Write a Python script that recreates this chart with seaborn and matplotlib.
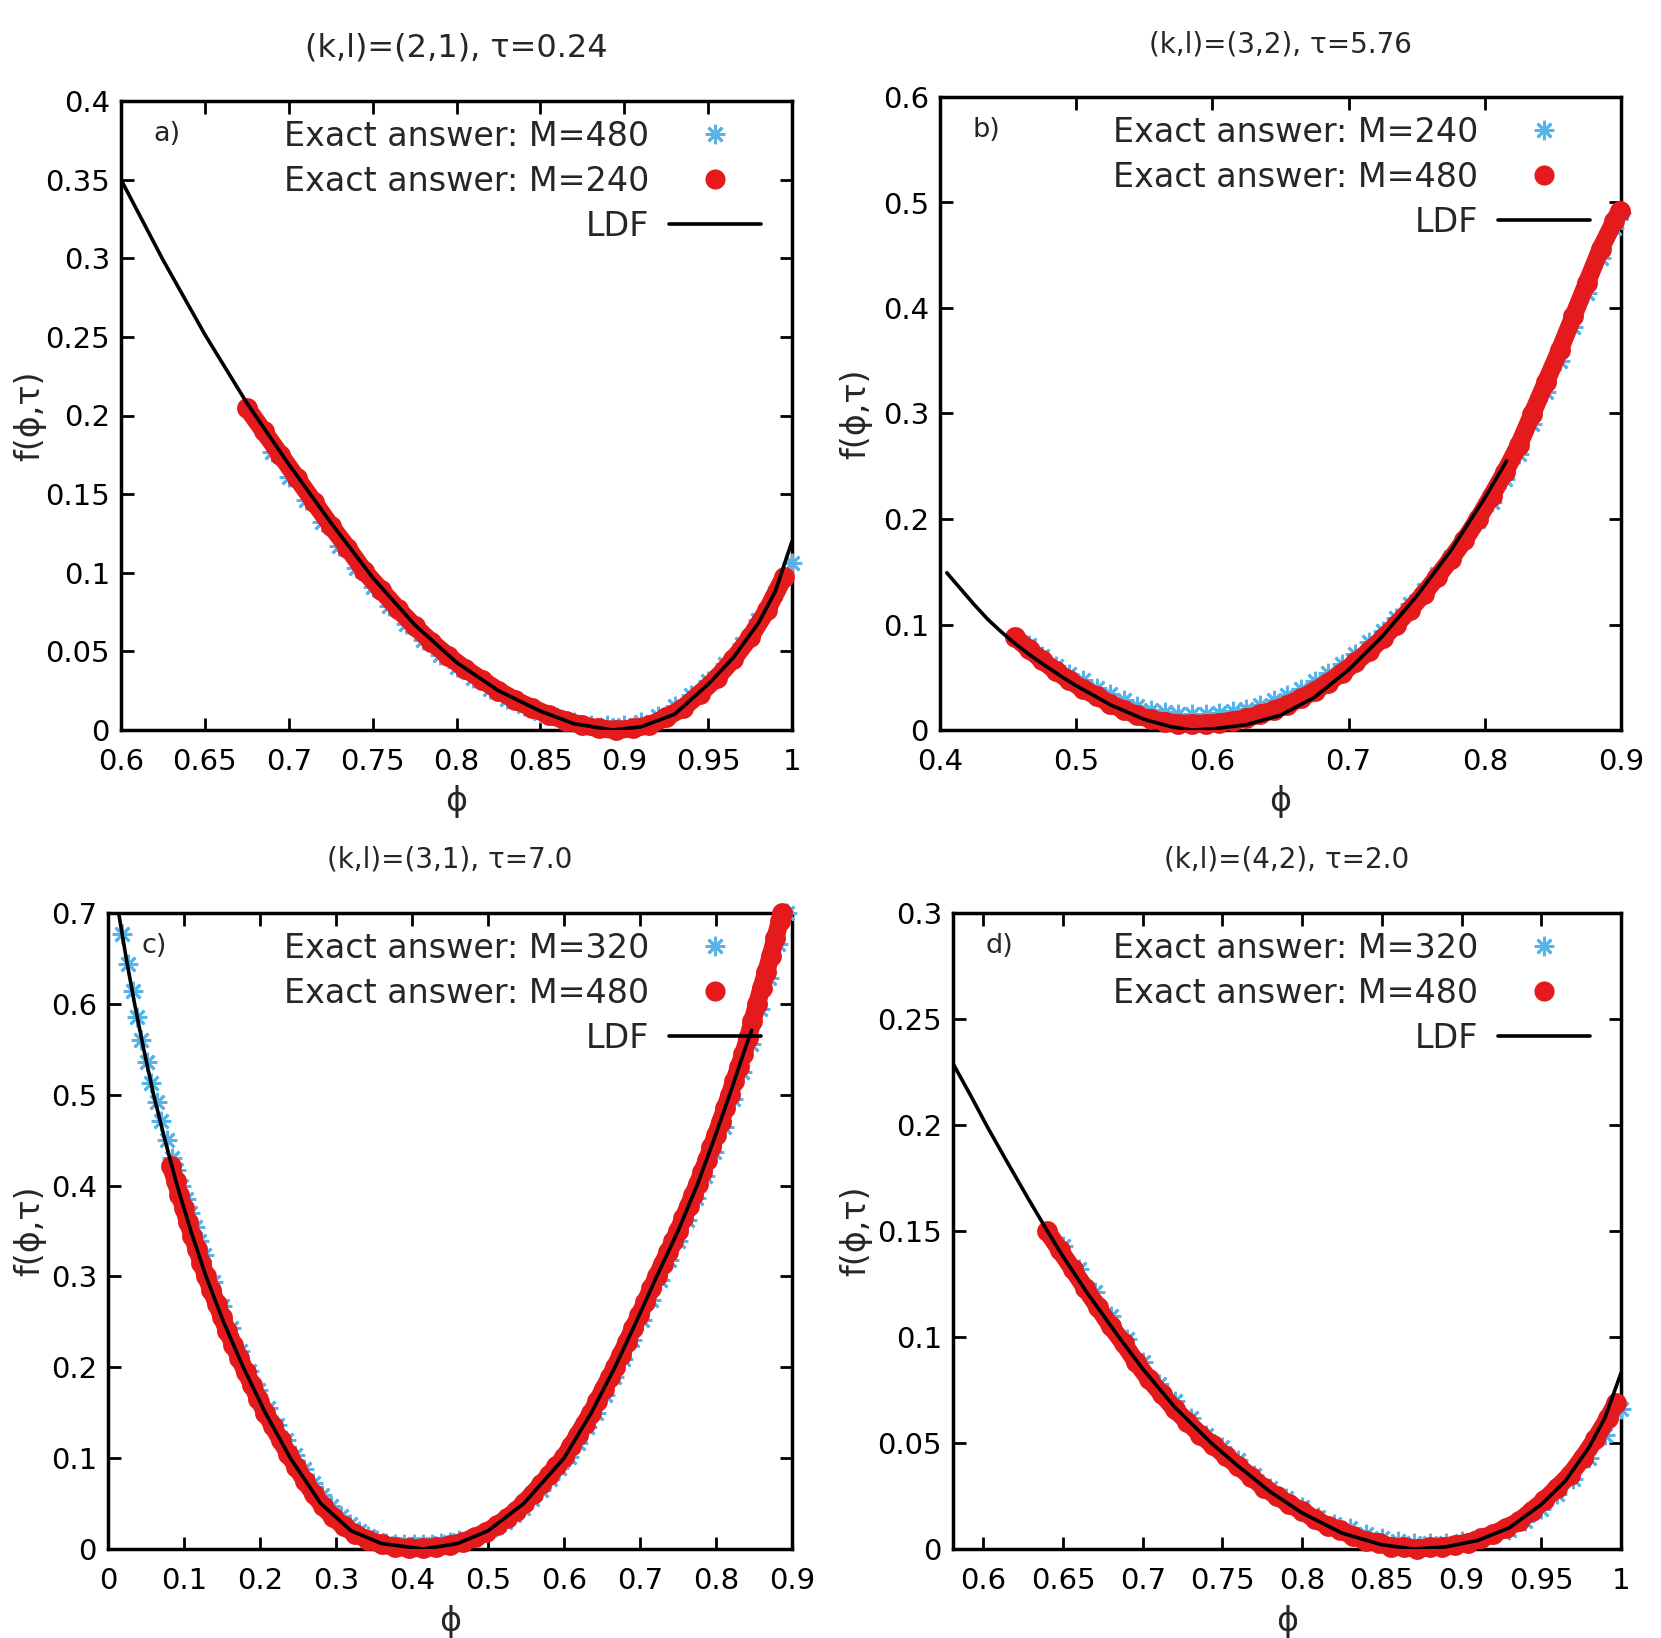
import matplotlib
matplotlib.use("Agg")
import matplotlib.pyplot as plt
from matplotlib.lines import Line2D
from matplotlib.ticker import MultipleLocator, FuncFormatter
import seaborn as sns

# --- values ---

# panel a) (k,l)=(2,1), tau=0.24
a_ldf_x = [0.600, 0.625, 0.650, 0.675, 0.700, 0.725, 0.750, 0.775, 0.800, 0.825,
           0.850, 0.870, 0.893, 0.910, 0.930, 0.950, 0.965, 0.980, 0.990, 1.000]
a_ldf_y = [0.350, 0.299, 0.2515, 0.208, 0.169, 0.132, 0.097, 0.067, 0.043, 0.025,
           0.012, 0.004, 0.000, 0.002, 0.010, 0.029, 0.046, 0.068, 0.088, 0.120]
a_red_x = [0.675, 0.685, 0.695, 0.705, 0.715, 0.725, 0.735, 0.745, 0.755, 0.765,
           0.775, 0.785, 0.795, 0.805, 0.815, 0.825, 0.835, 0.845, 0.855, 0.865,
           0.875, 0.885, 0.895, 0.905, 0.915, 0.925, 0.935, 0.945, 0.955, 0.965,
           0.975, 0.985, 0.995]
a_red_y = [0.205, 0.190, 0.175, 0.160, 0.145, 0.130, 0.116, 0.101, 0.089, 0.077,
           0.066, 0.056, 0.047, 0.039, 0.032, 0.025, 0.019, 0.014, 0.0095, 0.006,
           0.003, 0.001, 0.000, 0.001, 0.003, 0.008, 0.014, 0.023, 0.033, 0.045,
           0.059, 0.076, 0.097]
a_blue_x = [0.690, 0.700, 0.710, 0.720, 0.730, 0.740, 0.750, 0.760, 0.770, 0.780,
            0.790, 0.800, 0.810, 0.820, 0.830, 0.840, 0.850, 0.860, 0.870, 0.880,
            0.890, 0.900, 0.910, 0.920, 0.930, 0.940, 0.950, 0.960, 0.970, 0.980,
            0.990, 1.000]
a_blue_y = [0.177, 0.161, 0.1465, 0.132, 0.117, 0.103, 0.091, 0.079, 0.0675, 0.057,
            0.048, 0.040, 0.033, 0.026, 0.020, 0.015, 0.011, 0.008, 0.005, 0.003,
            0.003, 0.003, 0.005, 0.009, 0.015, 0.022, 0.031, 0.042, 0.055, 0.070,
            0.087, 0.106]

# panel b) (k,l)=(3,2), tau=5.76
b_ldf_x = [0.405, 0.415, 0.425, 0.435, 0.445, 0.455, 0.465, 0.475, 0.490, 0.500,
           0.525, 0.550, 0.570, 0.585, 0.600, 0.625, 0.650, 0.675, 0.700, 0.725,
           0.750, 0.775, 0.800, 0.816]
b_ldf_y = [0.149, 0.134, 0.119, 0.105, 0.093, 0.082, 0.072, 0.063, 0.050, 0.042,
           0.024, 0.010, 0.003, 0.000, 0.001, 0.005, 0.014, 0.031, 0.057, 0.089,
           0.127, 0.170, 0.220, 0.255]
b_red_x = [0.455, 0.465, 0.475, 0.485, 0.495, 0.505, 0.515, 0.525, 0.535, 0.545,
           0.555, 0.565, 0.575, 0.585, 0.595, 0.605, 0.615, 0.625, 0.635, 0.645,
           0.655, 0.665, 0.675, 0.685, 0.695, 0.705, 0.715, 0.725, 0.735, 0.745,
           0.755, 0.765, 0.775, 0.785, 0.795, 0.805, 0.815, 0.825, 0.835, 0.845,
           0.855, 0.865, 0.875, 0.885, 0.895, 0.899]
b_red_y = [0.088, 0.077, 0.066, 0.056, 0.047, 0.039, 0.032, 0.025, 0.019, 0.014,
           0.010, 0.008, 0.006, 0.006, 0.006, 0.007, 0.009, 0.011, 0.015, 0.019,
           0.024, 0.030, 0.037, 0.045, 0.054, 0.064, 0.075, 0.087, 0.100, 0.114,
           0.129, 0.145, 0.162, 0.180, 0.200, 0.222, 0.245, 0.270, 0.300, 0.330,
           0.360, 0.392, 0.424, 0.456, 0.482, 0.492]
b_blue_x = [0.465, 0.475, 0.485, 0.495, 0.505, 0.515, 0.525, 0.535, 0.545, 0.555,
            0.565, 0.575, 0.585, 0.595, 0.605, 0.615, 0.625, 0.635, 0.645, 0.655,
            0.665, 0.675, 0.685, 0.695, 0.705, 0.715, 0.725, 0.735, 0.745, 0.755,
            0.765, 0.775, 0.785, 0.795, 0.805, 0.815, 0.825, 0.835, 0.845, 0.855,
            0.865, 0.875, 0.885, 0.895, 0.900]
b_blue_y = [0.081, 0.070, 0.061, 0.053, 0.047, 0.040, 0.034, 0.028, 0.023, 0.019,
            0.017, 0.015, 0.015, 0.015, 0.016, 0.018, 0.020, 0.024, 0.028, 0.033,
            0.039, 0.046, 0.054, 0.063, 0.072, 0.083, 0.094, 0.106, 0.119, 0.133,
            0.148, 0.164, 0.180, 0.198, 0.216, 0.238, 0.262, 0.290, 0.320, 0.350,
            0.382, 0.414, 0.447, 0.476, 0.490]

# panel c) (k,l)=(3,1), tau=7.0
c_ldf_x = [0.014, 0.024, 0.035, 0.047, 0.060, 0.075, 0.091, 0.109, 0.129, 0.152,
           0.178, 0.207, 0.240, 0.280, 0.320, 0.360, 0.415, 0.460, 0.500, 0.547,
           0.600, 0.636, 0.667, 0.695, 0.722, 0.750, 0.775, 0.797, 0.818, 0.838,
           0.847]
c_ldf_y = [0.700, 0.650, 0.600, 0.550, 0.500, 0.450, 0.400, 0.350, 0.300, 0.250,
           0.200, 0.150, 0.100, 0.050, 0.020, 0.006, 0.000, 0.006, 0.020, 0.050,
           0.100, 0.150, 0.200, 0.250, 0.300, 0.350, 0.400, 0.450, 0.500, 0.550,
           0.571]
c_red_x = [0.083, 0.089, 0.094, 0.100, 0.105, 0.111, 0.117, 0.123, 0.129, 0.136,
           0.143, 0.150, 0.157, 0.165, 0.173, 0.181, 0.190, 0.198, 0.207, 0.217,
           0.227, 0.237, 0.248, 0.259, 0.271, 0.283, 0.296, 0.310, 0.325, 0.342,
           0.360, 0.378, 0.396, 0.414, 0.432, 0.450, 0.467, 0.483, 0.498, 0.512,
           0.525, 0.537, 0.548, 0.559, 0.570, 0.580, 0.590, 0.600, 0.609, 0.618,
           0.627, 0.636, 0.644, 0.652, 0.660, 0.667, 0.675, 0.683, 0.691, 0.699,
           0.707, 0.715, 0.722, 0.730, 0.737, 0.744, 0.750, 0.757, 0.764, 0.770,
           0.776, 0.782, 0.788, 0.794, 0.800, 0.806, 0.812, 0.818, 0.824, 0.830,
           0.836, 0.842, 0.848, 0.854, 0.860, 0.866, 0.872, 0.878, 0.884, 0.887]
c_red_y = [0.421, 0.405, 0.390, 0.375, 0.360, 0.345, 0.330, 0.315, 0.300, 0.285,
           0.270, 0.255, 0.240, 0.225, 0.210, 0.195, 0.180, 0.165, 0.150, 0.135,
           0.120, 0.105, 0.090, 0.075, 0.060, 0.047, 0.035, 0.025, 0.017, 0.010,
           0.005, 0.002, 0.001, 0.001, 0.002, 0.004, 0.008, 0.013, 0.019, 0.026,
           0.034, 0.042, 0.051, 0.061, 0.071, 0.081, 0.091, 0.101, 0.113, 0.125,
           0.138, 0.150, 0.163, 0.176, 0.189, 0.200, 0.214, 0.228, 0.243, 0.257,
           0.272, 0.287, 0.300, 0.314, 0.327, 0.339, 0.350, 0.364, 0.378, 0.390,
           0.402, 0.415, 0.428, 0.442, 0.456, 0.470, 0.485, 0.500, 0.515, 0.530,
           0.545, 0.562, 0.581, 0.600, 0.618, 0.635, 0.653, 0.672, 0.691, 0.700]
c_blue_x = [0.019, 0.026, 0.033, 0.038, 0.044, 0.051, 0.057, 0.064, 0.070, 0.077,
            0.084, 0.090, 0.096, 0.102, 0.108, 0.114, 0.120, 0.126, 0.138, 0.150,
            0.162, 0.174, 0.186, 0.198, 0.210, 0.222, 0.234, 0.246, 0.258, 0.270,
            0.282, 0.294, 0.306, 0.318, 0.330, 0.342, 0.354, 0.366, 0.378, 0.390,
            0.402, 0.414, 0.426, 0.438, 0.450, 0.462, 0.474, 0.486, 0.498, 0.510,
            0.522, 0.534, 0.546, 0.558, 0.570, 0.582, 0.594, 0.606, 0.618, 0.630,
            0.642, 0.654, 0.666, 0.678, 0.690, 0.702, 0.714, 0.726, 0.738, 0.750,
            0.762, 0.774, 0.786, 0.798, 0.810, 0.822, 0.834, 0.846, 0.858, 0.870,
            0.882, 0.893]
c_blue_y = [0.677, 0.644, 0.614, 0.586, 0.560, 0.536, 0.513, 0.492, 0.471, 0.450,
            0.430, 0.417, 0.400, 0.385, 0.370, 0.354, 0.339, 0.324, 0.294, 0.268,
            0.243, 0.218, 0.196, 0.175, 0.155, 0.137, 0.120, 0.104, 0.088, 0.073,
            0.059, 0.047, 0.036, 0.027, 0.020, 0.014, 0.010, 0.007, 0.006, 0.005,
            0.005, 0.005, 0.006, 0.007, 0.008, 0.010, 0.011, 0.014, 0.019, 0.024,
            0.030, 0.037, 0.045, 0.055, 0.065, 0.077, 0.089, 0.101, 0.117, 0.134,
            0.150, 0.170, 0.189, 0.209, 0.230, 0.252, 0.274, 0.296, 0.318, 0.339,
            0.362, 0.386, 0.411, 0.437, 0.465, 0.495, 0.525, 0.556, 0.594, 0.629,
            0.666, 0.700]

# panel d) (k,l)=(4,2), tau=2.0
d_ldf_x = [0.581, 0.592, 0.603, 0.615, 0.628, 0.641, 0.650, 0.665, 0.685, 0.700,
           0.720, 0.743, 0.760, 0.780, 0.800, 0.825, 0.850, 0.870, 0.890, 0.910,
           0.930, 0.950, 0.965, 0.980, 0.990, 1.000]
d_ldf_y = [0.229, 0.214, 0.1985, 0.1825, 0.1655, 0.149, 0.138, 0.121, 0.100, 0.085,
           0.067, 0.050, 0.039, 0.027, 0.017, 0.0075, 0.002, 0.000, 0.001, 0.004,
           0.010, 0.021, 0.032, 0.048, 0.062, 0.083]
d_red_x = [0.640, 0.648, 0.656, 0.664, 0.672, 0.680, 0.688, 0.696, 0.704, 0.712,
           0.720, 0.728, 0.736, 0.744, 0.752, 0.760, 0.768, 0.776, 0.784, 0.792,
           0.800, 0.808, 0.816, 0.824, 0.832, 0.840, 0.848, 0.856, 0.864, 0.872,
           0.880, 0.888, 0.896, 0.904, 0.912, 0.920, 0.928, 0.936, 0.944, 0.952,
           0.960, 0.968, 0.976, 0.984, 0.992, 0.997]
d_red_y = [0.150, 0.141, 0.132, 0.123, 0.114, 0.105, 0.097, 0.088, 0.080, 0.073,
           0.066, 0.060, 0.054, 0.049, 0.044, 0.039, 0.034, 0.029, 0.025, 0.021,
           0.018, 0.014, 0.011, 0.009, 0.006, 0.004, 0.003, 0.001, 0.001, 0.000,
           0.001, 0.001, 0.002, 0.003, 0.005, 0.007, 0.010, 0.013, 0.018, 0.023,
           0.029, 0.035, 0.043, 0.052, 0.062, 0.069]
d_blue_x = [0.650, 0.660, 0.670, 0.680, 0.690, 0.700, 0.710, 0.720, 0.730, 0.740,
            0.750, 0.760, 0.770, 0.780, 0.790, 0.800, 0.810, 0.820, 0.830, 0.840,
            0.850, 0.860, 0.870, 0.880, 0.890, 0.900, 0.910, 0.920, 0.930, 0.940,
            0.950, 0.960, 0.970, 0.980, 0.990, 1.000]
d_blue_y = [0.143, 0.132, 0.121, 0.110, 0.099, 0.088, 0.078, 0.070, 0.062, 0.054,
            0.048, 0.042, 0.035, 0.029, 0.024, 0.020, 0.015, 0.012, 0.010, 0.007,
            0.005, 0.004, 0.003, 0.003, 0.003, 0.004, 0.005, 0.007, 0.009, 0.013,
            0.019, 0.026, 0.033, 0.043, 0.054, 0.066]

titles = ['(k,l)=(2,1), τ=0.24', '(k,l)=(3,2), τ=5.76',
          '(k,l)=(3,1), τ=7.0', '(k,l)=(4,2), τ=2.0']
panel_tags = ['a)', 'b)', 'c)', 'd)']
blue_labels = ['Exact answer: M=480', 'Exact answer: M=240',
               'Exact answer: M=320', 'Exact answer: M=320']
red_labels = ['Exact answer: M=240', 'Exact answer: M=480',
              'Exact answer: M=480', 'Exact answer: M=480']
ldf_label = 'LDF'

# --- style ---
RED = '#e41a1c'
BLUE = '#56b4e9'
STAR = (8, 2, 0)
W, H = 1661, 1638

sns.set_style('ticks')
plt.rcParams['font.family'] = ['DejaVu Sans']

fig = plt.figure(figsize=(W / 100, H / 100), dpi=100)

# axes boxes in pixels: left, top, right, bottom
boxes = [(121, 101, 792, 730), (940, 97, 1621, 730),
         (108, 913, 792, 1549), (953, 913, 1621, 1549)]
limits = [((0.6, 1.0), (0, 0.4), 0.05, 0.05),
          ((0.4, 0.9), (0, 0.6), 0.1, 0.1),
          ((0.0, 0.9), (0, 0.7), 0.1, 0.1),
          ((0.581, 1.0), (0, 0.3), 0.05, 0.05)]
title_sizes = [23, 20, 20, 20]
ylabel_px = [30, 856, 30, 856]

panels = [
    (a_ldf_x, a_ldf_y, a_red_x, a_red_y, a_blue_x, a_blue_y),
    (b_ldf_x, b_ldf_y, b_red_x, b_red_y, b_blue_x, b_blue_y),
    (c_ldf_x, c_ldf_y, c_red_x, c_red_y, c_blue_x, c_blue_y),
    (d_ldf_x, d_ldf_y, d_red_x, d_red_y, d_blue_x, d_blue_y),
]

fmt = FuncFormatter(lambda v, pos: f'{v:g}')

for i, (lx, ly, rx, ry, bx, by) in enumerate(panels):
    left, top, right, bottom = boxes[i]
    wpx, hpx = right - left, bottom - top
    ax = fig.add_axes([left / W, 1 - bottom / H, wpx / W, hpx / H])

    # blue stars first, red dots over them, LDF on top (gnuplot order)
    sns.lineplot(x=bx, y=by, ax=ax, estimator=None, sort=False, linestyle='',
                 marker=STAR, markersize=14, mew=2, mec=BLUE, color=BLUE,
                 clip_on=False, zorder=2.6)
    sns.lineplot(x=rx, y=ry, ax=ax, estimator=None, sort=False, color=RED,
                 linewidth=13, solid_capstyle='round', marker='o',
                 markersize=15, mew=0, mec=RED, clip_on=False, zorder=3)
    sns.lineplot(x=lx, y=ly, ax=ax, estimator=None, sort=False, color='black',
                 linewidth=2.6, zorder=4)

    (x0, x1), (y0, y1), xstep, ystep = limits[i]
    ax.set_xlim(x0, x1)
    ax.set_ylim(y0, y1)
    ax.xaxis.set_major_locator(MultipleLocator(xstep))
    ax.yaxis.set_major_locator(MultipleLocator(ystep))
    ax.xaxis.set_major_formatter(fmt)
    ax.yaxis.set_major_formatter(fmt)
    ax.tick_params(direction='in', length=9, width=2, top=True, right=True,
                   labelsize=21, colors='black')
    ax.tick_params(axis='x', pad=13)
    ax.tick_params(axis='y', pad=8)
    for sp in ax.spines.values():
        sp.set_linewidth(2.5)
        sp.set_color('black')

    ax.text(0.5, 1 + 53 / hpx, titles[i], transform=ax.transAxes,
            ha='center', va='center', fontsize=title_sizes[i])
    ax.text(46 / wpx, 1 - 33 / hpx, panel_tags[i], transform=ax.transAxes,
            ha='center', va='center', fontsize=19.5)
    ax.set_xlabel('ϕ', fontsize=24, va='center')
    ax.xaxis.set_label_coords(0.5, -72 / hpx)
    ax.set_ylabel('f(ϕ,τ)', fontsize=24, va='center')
    ax.yaxis.set_label_coords((ylabel_px[i] - left) / wpx, 0.5)

    handles = [
        Line2D([], [], linestyle='', marker=STAR, markersize=14, mew=2,
               mec=BLUE, color=BLUE),
        Line2D([], [], linestyle='', marker='o', markersize=14.5, mew=0,
               mfc=RED, mec=RED),
        Line2D([], [], color='black', linewidth=2.6),
    ]
    ax.legend(handles, [blue_labels[i], red_labels[i], ldf_label],
              loc='upper right', bbox_to_anchor=(1 - 31 / wpx, 1 - 19 / hpx),
              frameon=False, markerfirst=False, fontsize=24,
              handlelength=2.76, handletextpad=0.6, labelspacing=0.36,
              borderpad=0, borderaxespad=0)

fig.savefig('out.png', dpi=100)
